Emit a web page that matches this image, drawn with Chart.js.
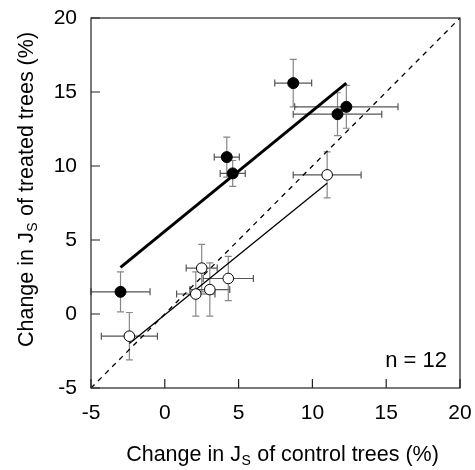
<!DOCTYPE html>
<html>
<head>
<meta charset="utf-8">
<script src="https://cdn.jsdelivr.net/npm/chart.js@4.4.1/dist/chart.umd.min.js"></script>
<style>
  html, body { margin: 0; padding: 0; background: #fff; }
  #wrap { width: 475px; height: 470px; }
</style>
</head>
<body>
<div id="wrap"><canvas id="c" width="475" height="470"></canvas></div>
<script>
// ---- data ----
const axisTicks = [-5, 0, 5, 10, 15, 20];

const treatedX    = [-3.0, 4.2, 4.6, 8.7, 11.7, 12.3];
const treatedY    = [1.5, 10.6, 9.5, 15.6, 13.5, 14.0];
const treatedXErr = [2.0, 0.85, 0.85, 1.25, 3.0, 3.5];
const treatedYErr = [1.35, 1.35, 0.87, 1.6, 1.45, 1.45];

const openX    = [-2.4, 2.5, 2.1, 3.05, 4.3, 11.0];
const openY    = [-1.5, 3.1, 1.35, 1.65, 2.4, 9.4];
const openXErr = [1.9, 1.05, 1.3, 1.35, 1.7, 2.3];
const openYErr = [1.6, 1.6, 1.5, 1.8, 1.5, 1.55];

const fitFilledX = [-3.0, 12.3];
const fitFilledY = [3.15, 15.6];
const fitOpenX   = [-2.4, 11.0];
const fitOpenY   = [-2.0, 8.83];
const oneToOne   = [-5, 20];

const xTitle = ["Change in J", "S", " of control trees (%)"];
const yTitle = ["Change in J", "S", " of treated trees (%)"];
const nLabel = "n = 12";

const toPts = (xs, ys) => xs.map((x, i) => ({x: x, y: ys[i]}));

const FONT = "Liberation Sans, Arial, Helvetica, sans-serif";

const errorBars = {
  id: 'errorBars',
  beforeDatasetsDraw(chart) {
    const ctx = chart.ctx, xs = chart.scales.x, ys = chart.scales.y;
    const cap = 3.5;
    const groups = [
      [treatedX, treatedY, treatedXErr, treatedYErr],
      [openX, openY, openXErr, openYErr]
    ];
    ctx.save();
    ctx.lineWidth = 1.2;
    groups.forEach(([X, Y, XE, YE]) => {
      X.forEach((x, i) => {
        const px = xs.getPixelForValue(x), py = ys.getPixelForValue(Y[i]);
        const x0 = xs.getPixelForValue(x - XE[i]), x1 = xs.getPixelForValue(x + XE[i]);
        const y0 = ys.getPixelForValue(Y[i] - YE[i]), y1 = ys.getPixelForValue(Y[i] + YE[i]);
        ctx.strokeStyle = '#555';
        ctx.beginPath();
        ctx.moveTo(x0, py); ctx.lineTo(x1, py);
        ctx.moveTo(x0, py - cap); ctx.lineTo(x0, py + cap);
        ctx.moveTo(x1, py - cap); ctx.lineTo(x1, py + cap);
        ctx.stroke();
        ctx.strokeStyle = '#888';
        ctx.beginPath();
        ctx.moveTo(px, y0); ctx.lineTo(px, y1);
        ctx.moveTo(px - cap, y0); ctx.lineTo(px + cap, y0);
        ctx.moveTo(px - cap, y1); ctx.lineTo(px + cap, y1);
        ctx.stroke();
      });
    });
    ctx.restore();
  }
};

const frame = {
  id: 'frame',
  afterDraw(chart) {
    const ctx = chart.ctx, a = chart.chartArea, xs = chart.scales.x, ys = chart.scales.y;
    ctx.save();
    ctx.strokeStyle = '#222';
    ctx.lineWidth = 1.2;
    ctx.strokeRect(a.left, a.top, a.right - a.left, a.bottom - a.top);
    const tl = 9;
    ctx.beginPath();
    axisTicks.forEach(v => {
      const px = xs.getPixelForValue(v);
      ctx.moveTo(px, a.bottom); ctx.lineTo(px, a.bottom - tl);
      const py = ys.getPixelForValue(v);
      ctx.moveTo(a.left, py); ctx.lineTo(a.left + tl, py);
    });
    ctx.stroke();

    // titles with subscript
    const big = "21.5px " + FONT, small = "14px " + FONT;
    function drawParts(parts, cx, cy) {
      ctx.font = big; const w0 = ctx.measureText(parts[0]).width;
      const w2 = ctx.measureText(parts[2]).width;
      ctx.font = small; const w1 = ctx.measureText(parts[1]).width;
      let x = cx - (w0 + w1 + w2) / 2;
      ctx.fillStyle = '#000';
      ctx.textBaseline = 'alphabetic';
      ctx.textAlign = 'left';
      ctx.font = big; ctx.fillText(parts[0], x, cy); x += w0;
      ctx.font = small; ctx.fillText(parts[1], x + 0.5, cy + 4); x += w1 + 1;
      ctx.font = big; ctx.fillText(parts[2], x, cy);
    }
    drawParts(xTitle, 282, 461);
    ctx.save();
    ctx.translate(33, 190);
    ctx.rotate(-Math.PI / 2);
    drawParts(yTitle, 0, 0);
    ctx.restore();

    ctx.font = "22px " + FONT;
    ctx.textAlign = 'right';
    ctx.fillText(nLabel, a.right - 13, a.bottom - 21);
    ctx.restore();
  }
};

new Chart(document.getElementById('c'), {
  type: 'scatter',
  data: {
    datasets: [
      { type: 'line', data: toPts(oneToOne, oneToOne), borderColor: '#000', borderWidth: 1.3,
        borderDash: [5, 5], pointRadius: 0, fill: false, order: 5 },
      { type: 'line', data: toPts(fitFilledX, fitFilledY), borderColor: '#000', borderWidth: 3,
        pointRadius: 0, fill: false, order: 4 },
      { type: 'line', data: toPts(fitOpenX, fitOpenY), borderColor: '#000', borderWidth: 1.3,
        pointRadius: 0, fill: false, order: 3 },
      { data: toPts(treatedX, treatedY), backgroundColor: '#000', borderColor: '#000',
        pointRadius: 5.5, borderWidth: 1, order: 1 },
      { data: toPts(openX, openY), backgroundColor: '#fff', borderColor: '#000',
        pointRadius: 5.3, borderWidth: 1, order: 2 }
    ]
  },
  options: {
    responsive: false,
    animation: false,
    events: [],
    layout: { padding: { top: 18, right: 15, left: 0, bottom: 0 } },
    plugins: { legend: { display: false }, tooltip: { enabled: false } },
    scales: {
      x: {
        type: 'linear', min: -5, max: 20,
        afterFit(s) { s.height = 82; s.paddingLeft = 0; s.paddingRight = 0; },
        afterBuildTicks(s) { s.ticks = axisTicks.map(v => ({value: v})); },
        grid: { display: false, drawTicks: false },
        border: { display: false },
        ticks: { color: '#000', padding: 13, font: { family: FONT, size: 21 } }
      },
      y: {
        type: 'linear', min: -5, max: 20,
        afterFit(s) { s.width = 91; s.paddingTop = 0; s.paddingBottom = 0; },
        afterBuildTicks(s) { s.ticks = axisTicks.map(v => ({value: v})); },
        grid: { display: false, drawTicks: false },
        border: { display: false },
        ticks: { color: '#000', padding: 14, font: { family: FONT, size: 21 } }
      }
    }
  },
  plugins: [errorBars, frame]
});
</script>
</body>
</html>
